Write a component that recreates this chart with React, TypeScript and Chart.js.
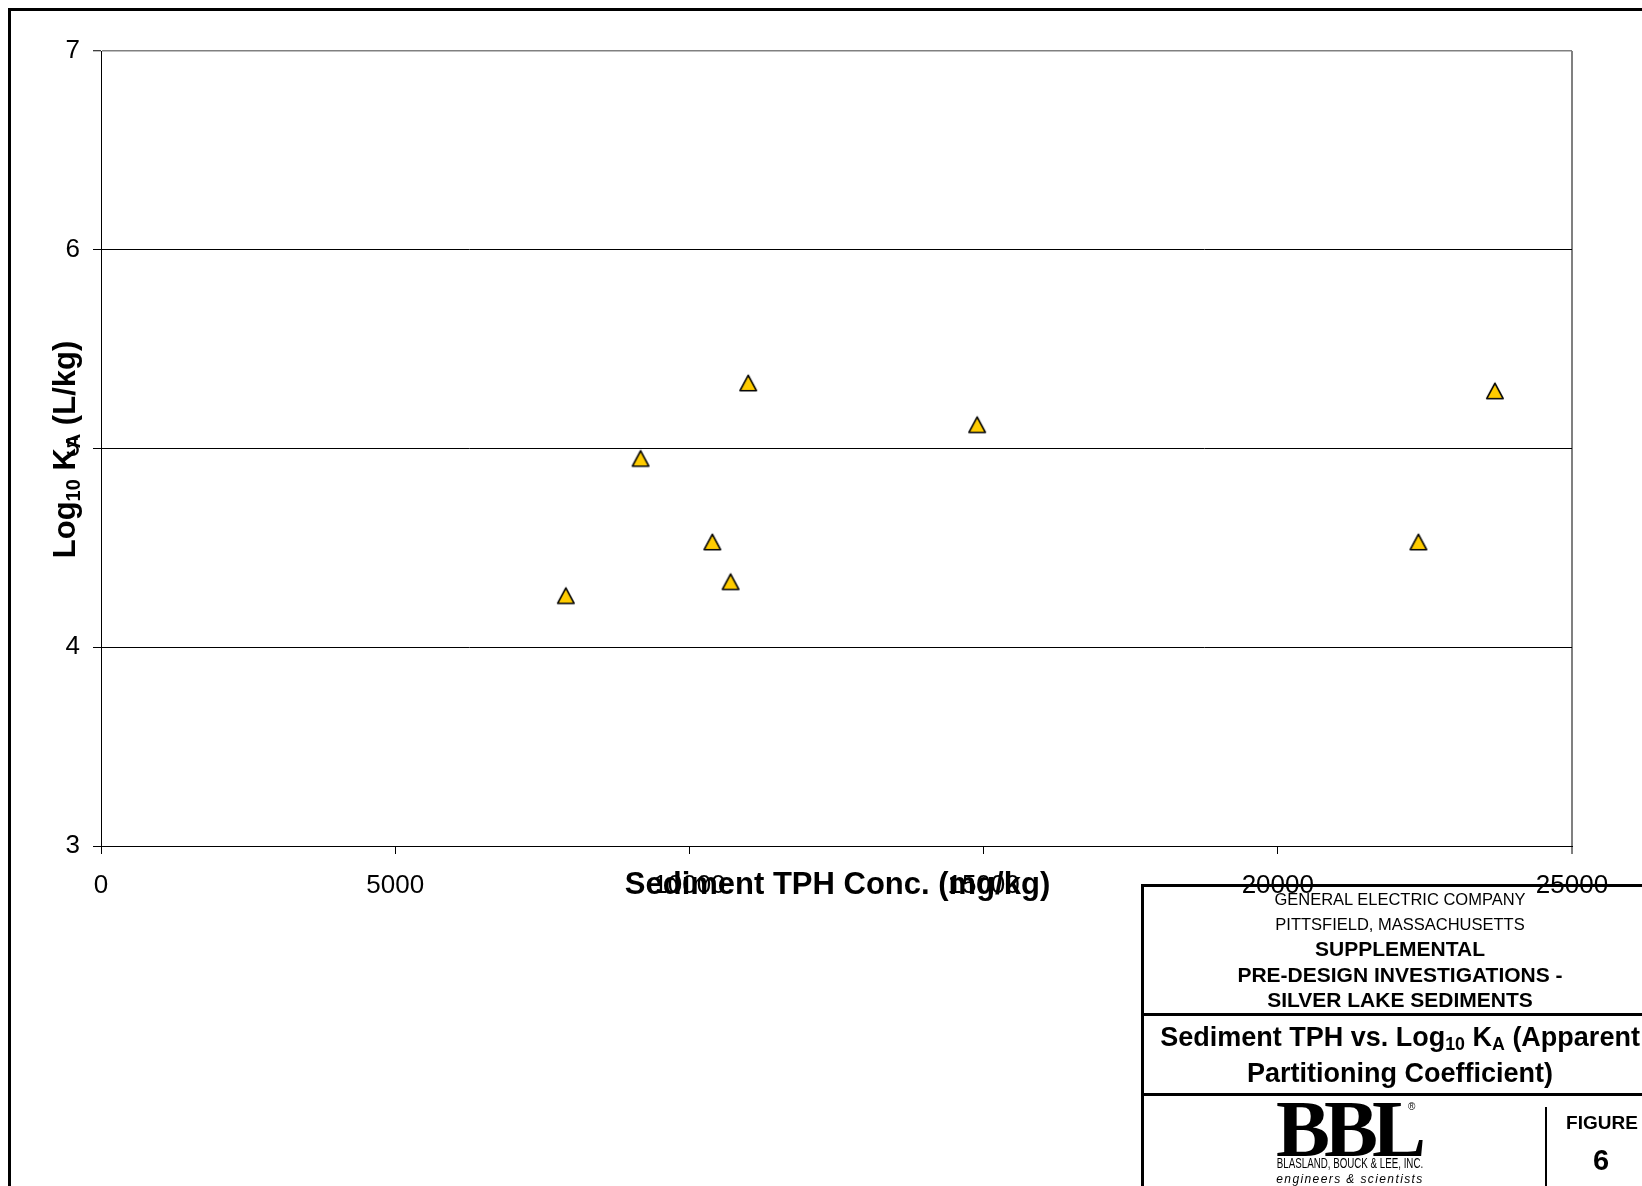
import React, { useEffect, useRef } from 'react';
import { Chart, registerables } from 'chart.js';

Chart.register(...registerables);

// ---- data ----
const tphValues = [7900, 9170, 10390, 10700, 11000, 14890, 22390, 23690];
const log10KaValues = [4.26, 4.95, 4.53, 4.33, 5.33, 5.12, 4.53, 5.29];
const xTickValues = [0, 5000, 10000, 15000, 20000, 25000];
const yTickValues = [3, 4, 5, 6, 7];
const xTitle = 'Sediment TPH Conc. (mg/kg)';
const yTitleParts = [
  { t: 'Log', sub: false },
  { t: '10', sub: true },
  { t: ' K', sub: false },
  { t: 'A', sub: true },
  { t: ' (L/kg)', sub: false },
];

const FONT = "'Liberation Sans', Arial, Helvetica, sans-serif";
const SERIF = "'Liberation Serif', 'Times New Roman', serif";

function makeTriangle(): HTMLCanvasElement {
  const c = document.createElement('canvas');
  c.width = 22;
  c.height = 22;
  const g = c.getContext('2d')!;
  g.beginPath();
  g.moveTo(11, 3.3);
  g.lineTo(19.2, 18.7);
  g.lineTo(2.8, 18.7);
  g.closePath();
  g.fillStyle = '#FFCC00';
  g.fill();
  g.lineWidth = 1.6;
  g.strokeStyle = '#000';
  g.lineJoin = 'round';
  g.stroke();
  return c;
}

const titlesPlugin = {
  id: 'axisTitles',
  afterDraw(chart: any) {
    const ctx = chart.ctx as CanvasRenderingContext2D;
    const a = chart.chartArea;
    ctx.save();
    ctx.fillStyle = '#000';
    ctx.font = `bold 31px ${FONT}`;
    ctx.textAlign = 'center';
    ctx.textBaseline = 'middle';
    ctx.fillText(xTitle, (a.left + a.right) / 2 + 1, a.bottom + 39);

    // rotated y title with subscripts
    ctx.translate(a.left - 37, (a.top + a.bottom) / 2 + 1);
    ctx.rotate(-Math.PI / 2);
    ctx.textAlign = 'left';
    ctx.textBaseline = 'alphabetic';
    const mainF = `bold 31px ${FONT}`;
    const subF = `bold 20px ${FONT}`;
    let total = 0;
    for (const p of yTitleParts) {
      ctx.font = p.sub ? subF : mainF;
      total += ctx.measureText(p.t).width;
    }
    let x = -total / 2;
    for (const p of yTitleParts) {
      ctx.font = p.sub ? subF : mainF;
      ctx.fillText(p.t, x, p.sub ? 16 : 11);
      x += ctx.measureText(p.t).width;
    }
    ctx.restore();
  },
};

function Line(props: {
  cx: number;
  cy: number;
  size: number;
  lh: number;
  bold?: boolean;
  italic?: boolean;
  family?: string;
  style?: React.CSSProperties;
  children: React.ReactNode;
}) {
  const { cx, cy, size, lh, bold, italic, family, style, children } = props;
  return (
    <div
      style={{
        position: 'absolute',
        left: cx - 300,
        width: 600,
        top: cy - lh / 2,
        height: lh,
        lineHeight: `${lh}px`,
        textAlign: 'center',
        whiteSpace: 'nowrap',
        fontFamily: family || FONT,
        fontSize: size,
        fontWeight: bold ? 'bold' : 'normal',
        fontStyle: italic ? 'italic' : 'normal',
        color: '#000',
        ...style,
      }}
    >
      {children}
    </div>
  );
}

const subStyle: React.CSSProperties = {
  fontSize: '0.66em',
  verticalAlign: '-0.25em',
  lineHeight: 0,
};

export default function App() {
  const canvasRef = useRef<HTMLCanvasElement | null>(null);

  useEffect(() => {
    const canvas = canvasRef.current;
    if (!canvas) return;
    const tri = makeTriangle();
    const chart = new Chart(canvas, {
      type: 'scatter',
      data: {
        datasets: [
          {
            data: tphValues.map((x, i) => ({ x, y: log10KaValues[i] })),
            pointStyle: tri as any,
            pointRadius: 10,
            pointHoverRadius: 10,
            showLine: false,
          },
        ],
      },
      plugins: [titlesPlugin],
      options: {
        animation: false,
        responsive: false,
        devicePixelRatio: 1,
        events: [],
        layout: { padding: { left: 0, top: 51, right: 70, bottom: 0 } },
        plugins: {
          legend: { display: false },
          tooltip: { enabled: false },
          title: { display: false },
        },
        scales: {
          x: {
            type: 'linear',
            min: 0,
            max: 25000,
            afterBuildTicks: (scale: any) => {
              scale.ticks = xTickValues.map((v) => ({ value: v }));
            },
            afterFit: (scale: any) => {
              scale.height = 340;
            },
            ticks: {
              autoSkip: false,
              maxRotation: 0,
              padding: 16,
              color: '#000',
              font: { family: FONT, size: 26 },
              callback: (v: any) => String(v),
            },
            grid: {
              drawOnChartArea: true,
              color: (c: any) => (c.tick && c.tick.value === 25000 ? '#808080' : 'rgba(0,0,0,0)'),
              lineWidth: (c: any) => (c.tick && c.tick.value === 25000 ? 2 : 1),
              tickColor: '#000',
              tickWidth: 1,
              tickLength: 8,
            },
            border: { display: true, color: '#000', width: 1 },
          },
          y: {
            type: 'linear',
            min: 3,
            max: 7,
            afterBuildTicks: (scale: any) => {
              scale.ticks = yTickValues.map((v) => ({ value: v }));
            },
            afterFit: (scale: any) => {
              scale.width = 101;
            },
            ticks: {
              padding: 13,
              color: '#000',
              font: { family: FONT, size: 26 },
              callback: (v: any) => String(v),
            },
            grid: {
              color: (c: any) => (c.tick && c.tick.value === 7 ? '#808080' : '#000'),
              lineWidth: (c: any) => (c.tick && c.tick.value === 7 ? 1.5 : 1),
              tickColor: '#000',
              tickWidth: 1,
              tickLength: 8,
            },
            border: { display: true, color: '#000', width: 1 },
          },
        },
      } as any,
    });
    return () => chart.destroy();
  }, []);

  return (
    <div
      style={{
        position: 'absolute',
        left: 0,
        top: 0,
        width: 1642,
        height: 1186,
        overflow: 'hidden',
        background: '#fff',
      }}
    >
      <canvas
        ref={canvasRef}
        width={1642}
        height={1186}
        style={{ position: 'absolute', left: 0, top: 0, width: 1642, height: 1186 }}
      />
      {/* outer frame */}
      <div
        style={{
          position: 'absolute',
          left: 8,
          top: 8,
          width: 1700,
          height: 1300,
          border: '3px solid #000',
          boxSizing: 'border-box',
        }}
      />
      {/* title block */}
      <div
        style={{
          position: 'absolute',
          left: 1141,
          top: 884,
          width: 518,
          height: 400,
          borderLeft: '3px solid #000',
          borderTop: '3px solid #000',
          borderRight: '3px solid #000',
          boxSizing: 'border-box',
        }}
      >
        <Line cx={256} cy={12} size={16.5} lh={20}>GENERAL ELECTRIC COMPANY</Line>
        <Line cx={256} cy={37} size={16.5} lh={20}>PITTSFIELD, MASSACHUSETTS</Line>
        <Line cx={256} cy={61.8} size={21} lh={24} bold>SUPPLEMENTAL</Line>
        <Line cx={256} cy={87.6} size={21} lh={24} bold>PRE-DESIGN INVESTIGATIONS -</Line>
        <Line cx={256} cy={113.3} size={21} lh={24} bold>SILVER LAKE SEDIMENTS</Line>
        <div style={{ position: 'absolute', left: 0, width: 600, top: 126, height: 2.5, background: '#000' }} />
        <Line cx={256} cy={149.5} size={27} lh={32} bold>
          Sediment TPH vs. Log<span style={subStyle}>10</span> K<span style={subStyle}>A</span> (Apparent
        </Line>
        <Line cx={256} cy={186} size={27} lh={32} bold>Partitioning Coefficient)</Line>
        <div style={{ position: 'absolute', left: 0, width: 600, top: 206, height: 2.5, background: '#000' }} />
        <div style={{ position: 'absolute', left: 400.5, width: 2.2, top: 220, height: 200, background: '#000' }} />
        <Line cx={204} cy={242} size={81} lh={81} bold family={SERIF} style={{ letterSpacing: '-6px' }}>
          BBL
        </Line>
        <Line cx={267.7} cy={220} size={10} lh={12}>®</Line>
        <Line cx={206} cy={276} size={15} lh={16} style={{ transform: 'scaleX(0.65)' }}>
          BLASLAND, BOUCK &amp; LEE, INC.
        </Line>
        <Line cx={206} cy={292} size={12} lh={14} italic style={{ letterSpacing: '1.4px' }}>
          engineers &amp; scientists
        </Line>
        <Line cx={458} cy={236} size={19} lh={22} bold>FIGURE</Line>
        <Line cx={457} cy={273} size={29} lh={32} bold>6</Line>
      </div>
    </div>
  );
}
